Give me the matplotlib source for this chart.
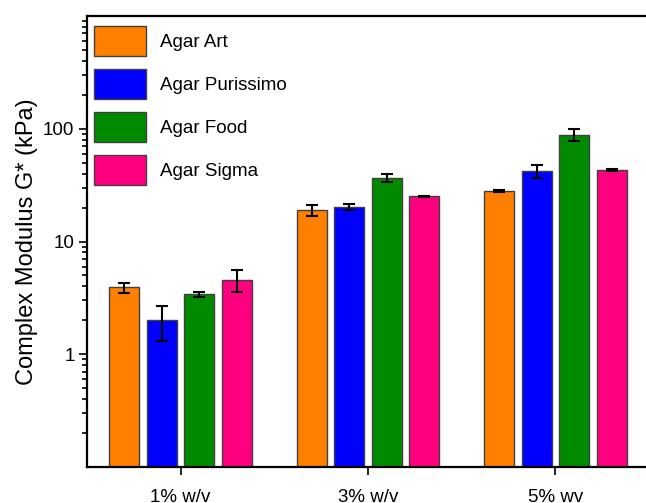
import matplotlib
matplotlib.use("Agg")
import matplotlib.pyplot as plt
import numpy as np

plt.rcParams['font.family'] = ['Liberation Sans', 'DejaVu Sans']

# data
groups = ['1% w/v', '3% w/v', '5% wv']
series = ['Agar Art', 'Agar Purissimo', 'Agar Food', 'Agar Sigma']
colors = ['#FF8000', '#0000FF', '#008A00', '#FF0080']

art = [3.92, 18.9, 28.0]
art_err = [0.4, 2.0, 0.4]
purissimo = [2.0, 20.3, 41.8]
purissimo_err = [0.7, 1.3, 5.5]
food = [3.40, 36.8, 88.0]
food_err = [0.2, 3.0, 10.5]
sigma = [4.58, 25.2, 43.2]
sigma_err = [1.0, 0.3, 1.1]

values = [art, purissimo, food, sigma]
errors = [art_err, purissimo_err, food_err, sigma_err]

fig = plt.figure(figsize=(6.46, 5.03), dpi=100)
ax = fig.add_axes([87 / 646, 36 / 503, 562 / 646, 451 / 503])

x = np.arange(len(groups))
width = 0.16
step = 0.2
for i, (name, vals, errs, c) in enumerate(zip(series, values, errors, colors)):
    offset = (i - 1.5) * step
    ax.bar(x + offset, vals, width, yerr=errs, color=c, edgecolor='#404040',
           linewidth=1.0, label=name,
           error_kw=dict(ecolor='black', elinewidth=1.5, capsize=4, capthick=1.5))

ax.set_yscale('log')
ax.set_ylim(0.1, 1000)
ax.set_xlim(-0.5, 2.5)
ax.set_yticks([1, 10, 100])
ax.set_yticklabels(['1', '10', '100'])
ax.set_xticks(x)
ax.set_xticklabels(groups)

ax.tick_params(axis='y', which='major', direction='out', length=6, width=1.2,
               labelsize=13.5, pad=3)
ax.tick_params(axis='y', which='minor', direction='out', length=3.5, width=1.2)
ax.tick_params(axis='x', which='major', direction='out', length=6, width=1.2,
               labelsize=13.5, pad=10)
for s in ax.spines.values():
    s.set_linewidth(1.6)

ax.set_ylabel('Complex Modulus G* (kPa)', fontsize=17, labelpad=4)

ax.legend(loc='upper left', bbox_to_anchor=(7 / 562, 1 - 10 / 451),
          frameon=False, fontsize=13.5, handlelength=2.75, handleheight=2.05,
          handletextpad=0.75, labelspacing=0.72, borderpad=0, borderaxespad=0)

fig.savefig('out.png', dpi=100)
